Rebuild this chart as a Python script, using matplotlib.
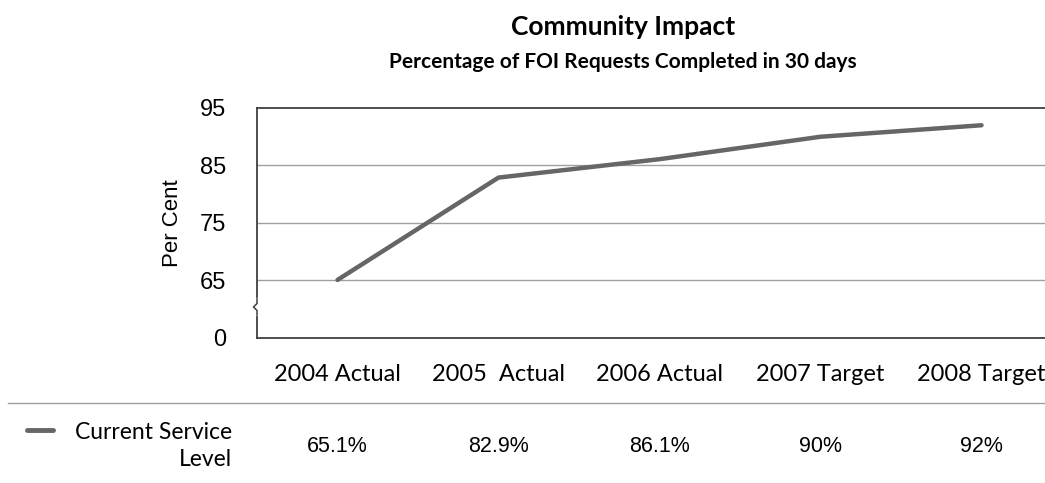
import matplotlib
matplotlib.use("Agg")
import matplotlib.pyplot as plt
from matplotlib.lines import Line2D

categories = ["2004 Actual", "2005  Actual", "2006 Actual", "2007 Target", "2008 Target"]
service_level = [65.1, 82.9, 86.1, 90, 92]
value_labels = ["65.1%", "82.9%", "86.1%", "90%", "92%"]
tick_values = [55, 65, 75, 85, 95]
tick_labels = ["0", "65", "75", "85", "95"]
series_name = "Current Service\nLevel"

HUMAN = ["Lato", "DejaVu Sans"]
ARIAL = ["Liberation Sans", "DejaVu Sans"]
LINE_COLOR = "#666666"

W, H = 1045, 483
fig = plt.figure(figsize=(W / 100, H / 100), dpi=100)

# plot area in pixel terms
left_px, top_px, bottom_px, right_px = 257, 108, 338, 1045
ax = fig.add_axes([left_px / W, 1 - bottom_px / H,
                   (right_px - left_px) / W, (bottom_px - top_px) / H])

x = list(range(len(categories)))
ax.plot(x, service_level, color=LINE_COLOR, lw=3.2, solid_capstyle="round",
        solid_joinstyle="round", zorder=3)

step_px = 161.0
ax.set_xlim(-0.5, -0.5 + (right_px - left_px) / step_px)
ax.set_ylim(55, 95)

for v in tick_values[1:-1]:
    ax.axhline(v, color="#a0a0a0", lw=1.0, zorder=1)

ax.set_yticks(tick_values)
ax.set_yticklabels(tick_labels, family=ARIAL, fontsize=17)
ax.set_xticks(x)
ax.set_xticklabels(categories, family=HUMAN, fontsize=17)
ax.tick_params(axis="y", length=0, pad=22)
ax.tick_params(axis="x", length=0, pad=19)

for side in ["left", "top", "bottom"]:
    ax.spines[side].set_color("#404040")
    ax.spines[side].set_linewidth(1.3)
ax.spines["right"].set_visible(False)

ax.set_ylabel("Per Cent", family=ARIAL, fontsize=16, labelpad=12)

# axis break marker on the left spine
brk_y = 1 - (307 - top_px) / (bottom_px - top_px)
ax.plot([0, 0], [brk_y - 0.03, brk_y + 0.03], transform=ax.transAxes,
        color="white", lw=3, clip_on=False, zorder=4)
zx = [0, 0, -3.5 / (right_px - left_px), 0, 0]
zy = [brk_y + 0.035, brk_y + 0.015, brk_y, brk_y - 0.015, brk_y - 0.035]
ax.plot(zx, zy, transform=ax.transAxes, color="#404040", lw=1.1,
        clip_on=False, zorder=5)

# titles
fig.text(623 / W, 1 - 27 / H, "Community Impact", ha="center", va="center",
         family=HUMAN, fontsize=19, fontweight="bold")
fig.text(623 / W, 1 - 62 / H, "Percentage of FOI Requests Completed in 30 days",
         ha="center", va="center", family=HUMAN, fontsize=15, fontweight="bold")

# data table under the chart
fig.add_artist(Line2D([8 / W, 1.0], [1 - 403 / H, 1 - 403 / H],
                      color="#a0a0a0", lw=1.0))
fig.add_artist(Line2D([27 / W, 53 / W], [1 - 430 / H, 1 - 430 / H],
                      color=LINE_COLOR, lw=3.5, solid_capstyle="round"))
fig.text(232 / W, 1 - 446 / H, series_name, ha="right", va="center",
         family=HUMAN, fontsize=16.5, linespacing=1.3, multialignment="right")
for xi, lab in zip(x, value_labels):
    xd = ax.transData.transform((xi, 0))[0]
    fig.text(xd / W, 1 - 447 / H, lab, ha="center", va="center",
             family=ARIAL, fontsize=15.5)

fig.savefig("out.png", dpi=100)
